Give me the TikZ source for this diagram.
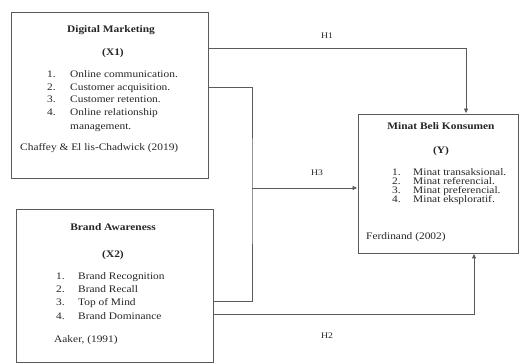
\documentclass[tikz,border=0pt]{standalone}
\usepackage{fontspec}
\setmainfont{Liberation Serif}[FakeStretch=1.14]
\usetikzlibrary{arrows.meta}
\definecolor{linec}{HTML}{5A5A5A}
\definecolor{txtc}{HTML}{262626}
\tikzset{
  box/.style={draw=linec, line width=0.9pt, inner sep=0pt, fill=white},
  conn/.style={draw=linec, line width=0.8pt},
  arr/.style={conn, -{Latex[length=5pt,width=4.5pt]}},
  ttl/.style={anchor=mid, inner sep=0pt, text=txtc, font=\fontsize{10}{12}\selectfont\bfseries},
  txt/.style={anchor=mid west, inner sep=0pt, text=txtc, font=\fontsize{10}{12}\selectfont},
  hlab/.style={anchor=mid, inner sep=0pt, text=txtc, font=\fontsize{8.5}{10}\selectfont},
}
\begin{document}
\begin{tikzpicture}[x=1pt,y=-1pt]
\useasboundingbox (0,0) rectangle (523,363);
% boxes
\node[box, minimum width=197pt, minimum height=166pt] (x1) at (109.5,95) {};
\node[box, minimum width=197pt, minimum height=153pt] (x2) at (114.5,285.5) {};
\node[box, minimum width=160pt, minimum height=139pt] (y) at (438,183.5) {};
% box X1 text
\node[ttl] (x1t) at (111,30) {Digital Marketing};
\node[ttl] (x1v) at (113,53) {(X1)};
\foreach \n/\yy/\t in {1/75/Online communication.,2/88/Customer acquisition.,3/100/Customer retention.,4/113/Online relationship}{
  \node[txt] (x1n\n) at (47,\yy) {\n.};
  \node[txt] (x1i\n) at (70,\yy) {\t};
}
\node[txt] (x1i5) at (70,127) {management.};
\node[txt] (x1c) at (20,148) {Chaffey \& El lis-Chadwick (2019)};
% box X2 text
\node[ttl] (x2t) at (113,228) {Brand Awareness};
\node[ttl] (x2v) at (113,255) {(X2)};
\foreach \n/\yy/\t in {1/277/Brand Recognition,2/290/Brand Recall,3/303/Top of Mind,4/317/Brand Dominance}{
  \node[txt] (x2n\n) at (56,\yy) {\n.};
  \node[txt] (x2i\n) at (78,\yy) {\t};
}
\node[txt] (x2c) at (54,340) {Aaker, (1991)};
% box Y text
\node[ttl] (yt) at (441,127) {Minat Beli Konsumen};
\node[ttl] (yv) at (441,151) {(Y)};
\foreach \n/\yy/\t in {1/173/Minat transaksional.,2/182.5/Minat referencial.,3/191.5/Minat preferencial.,4/200.5/Minat eksploratif.}{
  \node[txt] (yn\n) at (392,\yy) {\n.};
  \node[txt] (yi\n) at (413,\yy) {\t};
}
\node[txt] (yc) at (366,237) {Ferdinand (2002)};
% connectors
\coordinate (j) at (252,188);
\draw[arr] (x1.east |- 0,48) -| (466,0 |- y.north);
\draw[conn] (x1.east |- 0,87) -| (j) |- (x2.east |- 0,301);
\draw[arr] (j) -- (j -| y.west);
\draw[arr] (x2.east |- 0,314) -| (474,0 |- y.south);
% labels
\node[hlab] (h1) at (327,36) {H1};
\node[hlab] (h3) at (317,173) {H3};
\node[hlab] (h2) at (327,336) {H2};
\end{tikzpicture}
\end{document}
